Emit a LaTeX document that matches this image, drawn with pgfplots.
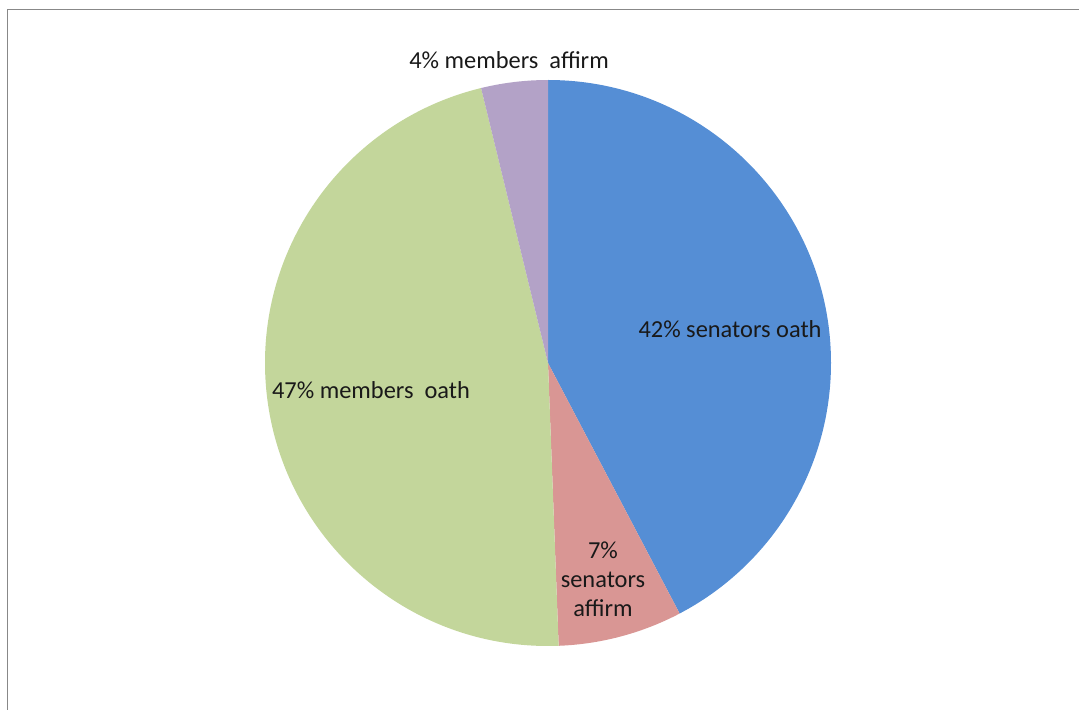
\documentclass[border=0pt]{standalone}
\usepackage{pgfplots}
\usepackage{pgfplotstable}
\pgfplotsset{compat=1.18}
\usepackage{fontspec}
\setmainfont{Carlito}
\definecolor{cblue}{HTML}{558ED5}
\definecolor{cred}{HTML}{D99694}
\definecolor{cgreen}{HTML}{C3D69B}
\definecolor{cpurple}{HTML}{B3A2C7}
\definecolor{frame}{HTML}{888888}

\pgfplotstableread{
share
42.3
7.1
46.8
3.8
}\piedata

\pgfplotstablegetelem{0}{share}\of\piedata \let\va\pgfplotsretval
\pgfplotstablegetelem{1}{share}\of\piedata \let\vb\pgfplotsretval
\pgfplotstablegetelem{2}{share}\of\piedata \let\vc\pgfplotsretval
\pgfplotstablegetelem{3}{share}\of\piedata \let\vd\pgfplotsretval
\pgfmathsetmacro{\aA}{90}
\pgfmathsetmacro{\aB}{90-3.6*\va}
\pgfmathsetmacro{\aC}{\aB-3.6*\vb}
\pgfmathsetmacro{\aD}{\aC-3.6*\vc}
\pgfmathsetmacro{\aE}{\aD-3.6*\vd}

\begin{document}
\begin{tikzpicture}
\useasboundingbox (0,0) rectangle (1079bp,710bp);
\begin{axis}[
  at={(0,0)}, anchor=origin,
  x=1bp, y=1bp,
  xmin=0, xmax=1079, ymin=0, ymax=710,
  hide axis, clip=false,
]
\fill[cblue] (axis cs:548,347) -- ++(\aA:283bp) arc[start angle=\aA, end angle=\aB, radius=283bp] -- cycle;
\fill[cred] (axis cs:548,347) -- ++(\aB:283bp) arc[start angle=\aB, end angle=\aC, radius=283bp] -- cycle;
\fill[cgreen] (axis cs:548,347) -- ++(\aC:283bp) arc[start angle=\aC, end angle=\aD, radius=283bp] -- cycle;
\fill[cpurple] (axis cs:548,347) -- ++(\aD:283bp) arc[start angle=\aD, end angle=\aE, radius=283bp] -- cycle;
\draw[frame, line width=1.5bp] (axis cs:7.5,0) -- (axis cs:7.5,700.5) -- (axis cs:1079,700.5);
\begin{scope}[every node/.style={font=\fontsize{24.5}{29}\selectfont, text=black!90, inner sep=0pt}]
\node at (axis cs:730,381) {42\% senators oath};
\node[align=center] at (axis cs:603,131) {7\%\\senators\\affirm};
\node at (axis cs:371,320) {47\% members\ \ oath};
\node at (axis cs:509,650) {4\% members\ \ affirm};
\end{scope}
\end{axis}
\end{tikzpicture}
\end{document}
